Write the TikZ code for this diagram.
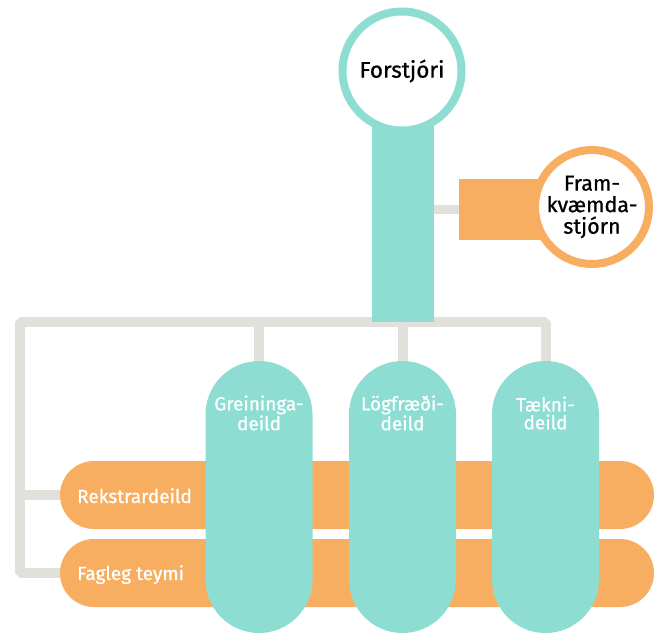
\documentclass[tikz,border=0pt]{standalone}
\usepackage{fontspec}
\setmainfont{Fira Sans}[FakeBold=0.8]
\usetikzlibrary{calc}
\definecolor{tealc}{HTML}{8DDDD2}
\definecolor{orangec}{HTML}{F8AE61}
\definecolor{greyc}{HTML}{E1E0DB}
\pgfdeclarelayer{bg}
\pgfsetlayers{bg,main}
\begin{document}
\begin{tikzpicture}[x=1pt,y=-1pt,
  conn/.style={draw=greyc, line width=10pt, line join=bevel},
  vpill/.style={fill=tealc, rounded corners=53.5pt, minimum width=107pt, minimum height=272pt, inner sep=0pt, outer sep=0pt},
  hpill/.style={fill=orangec, rounded corners=34pt, minimum width=594pt, minimum height=68pt, inner sep=0pt, outer sep=0pt},
  ring/.style={circle, draw=#1, line width=8pt, fill=white, inner sep=0pt, outer sep=0pt, text=black, align=center},
  wlbl/.style={text=white, font=\fontsize{19}{18}\selectfont, align=center, inner sep=0pt},
]
\useasboundingbox (0,0) rectangle (654,633);
% stem and orange bar
\node[fill=tealc, minimum width=62pt, minimum height=202pt, inner sep=0pt, outer sep=0pt] (stem) at (403,221) {};
\node[fill=orangec, minimum width=101pt, minimum height=61pt, inner sep=0pt, outer sep=0pt] (framkrect) at (509.5,209.5) {};
% circles
\node[ring=tealc, minimum size=119pt, font=\fontsize{22.5}{22.5}\selectfont] (forst) at (402,71) {Forstjóri};
\node[ring=orangec, minimum size=114pt, font=\fontsize{21.5}{21.5}\selectfont] (framk) at (592,207) {Fram-\\kvæmda-\\stjórn};
% horizontal pills
\node[hpill] (rekstr) at (357,495) {};
\node[hpill] (fagleg) at (357,573) {};
% vertical pills
\node[vpill] (grein) at (259,497) {};
\node[vpill] (logf) at (402.5,497) {};
\node[vpill] (taekni) at (545.5,497) {};
% labels
\node[wlbl] (greint) at ($(grein.north)+(0,52)$) {Greininga-\\deild};
\node[wlbl] (logft) at ($(logf.north)+(0,52)$) {Lögfræði-\\deild};
\node[wlbl] (taeknit) at ($(taekni.north)+(0,52)$) {Tækni-\\deild};
\node[wlbl, anchor=base west] (rekstrt) at ($(rekstr.west)+(17,8)$) {Rekstrardeild};
\node[wlbl, anchor=base west] (faglegt) at ($(fagleg.west)+(17,7)$) {Fagleg teymi};
% connectors
\begin{pgfonlayer}{bg}
\fill[white] (0,0) rectangle (654,633);
\coordinate (tl) at (19.5,322);
\coordinate (bl) at (19.5,573);
\draw[conn] (fagleg.west) -- (bl) -- (tl) -- (tl -| taekni.north) -- (taekni.north);
\draw[conn] (rekstr.west) -- (rekstr.west -| tl);
\draw[conn] (tl -| grein.north) -- (grein.north);
\draw[conn] (tl -| logf.north) -- (logf.north);
\draw[greyc, line width=9pt] (stem.east |- framkrect.west) -- (framkrect.west);
\end{pgfonlayer}
\end{tikzpicture}
\end{document}
